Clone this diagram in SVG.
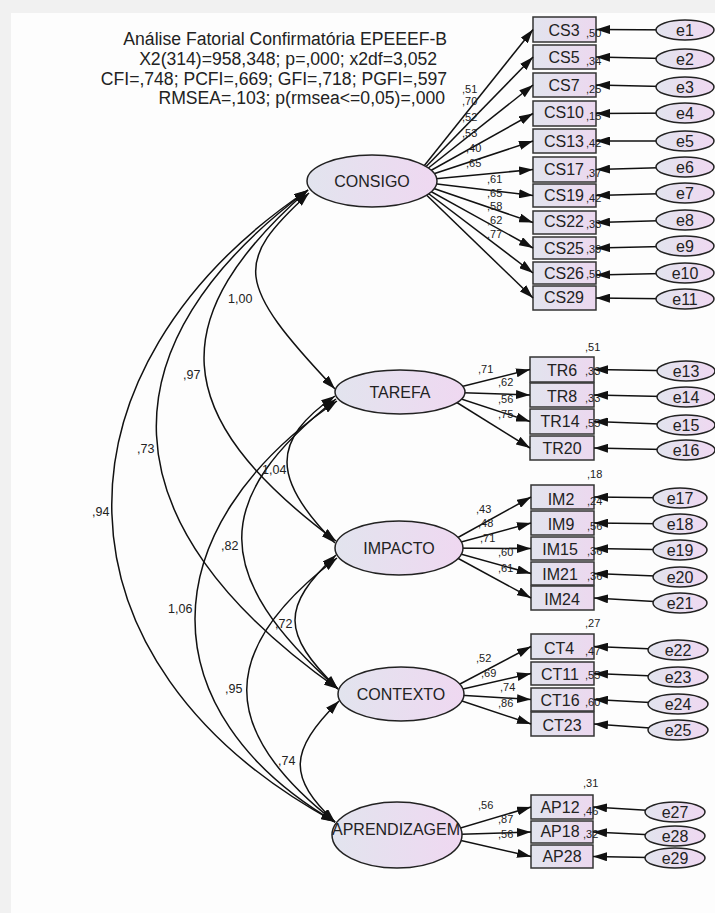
<svg xmlns="http://www.w3.org/2000/svg" width="715" height="913" viewBox="0 0 715 913">
<style>
.t{font-family:"Liberation Sans",Arial,sans-serif;fill:#222}
.hd{font-size:17.6px;text-anchor:end}
.nm{font-size:16px;text-anchor:middle}
.sm{font-size:11px}
.cv{font-size:12.5px}
.box{fill:url(#gb);stroke:#333;stroke-width:1.5}
.lat{fill:url(#gl);stroke:#222;stroke-width:1.5}
.err{fill:url(#gl);stroke:#222;stroke-width:1.5}
.ln{fill:none;stroke:#111;stroke-width:1.5}
.ar{marker-end:url(#ah)}
.cov{fill:none;stroke:#111;stroke-width:1.5;marker-start:url(#ah);marker-end:url(#ah)}
</style>
<defs>
<linearGradient id="gb" x1="0" y1="0" x2="1" y2="0"><stop offset="0" stop-color="#e2e4ee"/><stop offset="1" stop-color="#ecd8ef"/></linearGradient>
<linearGradient id="gl" x1="0" y1="0" x2="1" y2="0"><stop offset="0" stop-color="#e2e4ee"/><stop offset="1" stop-color="#efd8f1"/></linearGradient>
<marker id="ah" viewBox="0 0 14 9" refX="14" refY="4.5" markerWidth="14" markerHeight="9" markerUnits="userSpaceOnUse" orient="auto-start-reverse"><path d="M0,0 L14,4.5 L0,9 z" fill="#111"/></marker>
</defs>
<rect x="0" y="0" width="715" height="913" fill="#f1f1f1"/>
<rect x="11" y="13" width="704" height="900" fill="#fdfdfd"/>
<g id="header" class="t hd">
<text x="447" y="45">Análise Fatorial Confirmatória EPEEEF-B</text>
<text x="437" y="65">X2(314)=958,348; p=,000; x2df=3,052</text>
<text x="447" y="85">CFI=,748; PCFI=,669; GFI=,718; PGFI=,597</text>
<text x="445" y="104">RMSEA=,103; p(rmsea&lt;=0,05)=,000</text>
</g>
<!-- indicators -->
<g id="CS3"><rect class="box" x="533" y="17" width="63" height="25"/><text class="t nm" x="564" y="35.5">CS3</text><text class="t sm" x="586" y="37">,50</text></g>
<g id="CS5"><rect class="box" x="533" y="45" width="63" height="24"/><text class="t nm" x="564" y="62.7">CS5</text><text class="t sm" x="586" y="65">,34</text></g>
<g id="CS7"><rect class="box" x="533" y="73" width="63" height="24"/><text class="t nm" x="564" y="90.7">CS7</text><text class="t sm" x="586" y="93">,25</text></g>
<g id="CS10"><rect class="box" x="533" y="101" width="63" height="25"/><text class="t nm" x="564" y="118.3">CS10</text><text class="t sm" x="586" y="120">,15</text></g>
<g id="CS13"><rect class="box" x="533" y="129" width="63" height="24"/><text class="t nm" x="564" y="146.7">CS13</text><text class="t sm" x="586" y="147">,42</text></g>
<g id="CS17"><rect class="box" x="533" y="157" width="63" height="25"/><text class="t nm" x="564" y="175">CS17</text><text class="t sm" x="586" y="177">,37</text></g>
<g id="CS19"><rect class="box" x="533" y="184" width="63" height="23"/><text class="t nm" x="564" y="200.7">CS19</text><text class="t sm" x="586" y="202">,42</text></g>
<g id="CS22"><rect class="box" x="533" y="211" width="63" height="23"/><text class="t nm" x="564" y="227.3">CS22</text><text class="t sm" x="586" y="228">,33</text></g>
<g id="CS25"><rect class="box" x="533" y="237" width="63" height="22"/><text class="t nm" x="564" y="254">CS25</text><text class="t sm" x="586" y="253">,39</text></g>
<g id="CS26"><rect class="box" x="533" y="262" width="63" height="22"/><text class="t nm" x="564" y="279">CS26</text><text class="t sm" x="586" y="278">,59</text></g>
<g id="CS29"><rect class="box" x="533" y="286" width="63" height="24"/><text class="t nm" x="564" y="302.7">CS29</text></g>

<g id="TR6"><rect class="box" x="530" y="357" width="64" height="25"/><text class="t nm" x="562" y="376">TR6</text><text class="t sm" x="585" y="350.5">,51</text><text class="t sm" x="585" y="375">,33</text></g>
<g id="TR8"><rect class="box" x="530" y="383" width="64" height="24"/><text class="t nm" x="562" y="401.5">TR8</text><text class="t sm" x="585" y="401.5">,33</text></g>
<g id="TR14"><rect class="box" x="530" y="409" width="64" height="25"/><text class="t nm" x="560" y="427">TR14</text><text class="t sm" x="585" y="427">,55</text></g>
<g id="TR20"><rect class="box" x="530" y="436" width="64" height="24"/><text class="t nm" x="562" y="454">TR20</text></g>

<g id="IM2"><rect class="box" x="531" y="485" width="63" height="24"/><text class="t nm" x="561" y="505">IM2</text><text class="t sm" x="587" y="478">,18</text><text class="t sm" x="587" y="505">,24</text></g>
<g id="IM9"><rect class="box" x="531" y="511" width="63" height="24"/><text class="t nm" x="561" y="530">IM9</text><text class="t sm" x="587" y="530">,56</text></g>
<g id="IM15"><rect class="box" x="531" y="537" width="63" height="23"/><text class="t nm" x="560" y="555">IM15</text><text class="t sm" x="587" y="555">,36</text></g>
<g id="IM21"><rect class="box" x="531" y="562" width="63" height="23"/><text class="t nm" x="560" y="580">IM21</text><text class="t sm" x="587" y="580">,36</text></g>
<g id="IM24"><rect class="box" x="531" y="586" width="63" height="24"/><text class="t nm" x="562" y="605">IM24</text></g>

<g id="CT4"><rect class="box" x="531" y="634" width="63" height="25"/><text class="t nm" x="559" y="654">CT4</text><text class="t sm" x="585" y="626.5">,27</text><text class="t sm" x="585" y="655">,47</text></g>
<g id="CT11"><rect class="box" x="531" y="662" width="63" height="23"/><text class="t nm" x="560" y="680">CT11</text><text class="t sm" x="585" y="679">,55</text></g>
<g id="CT16"><rect class="box" x="531" y="688" width="63" height="23"/><text class="t nm" x="560" y="705.5">CT16</text><text class="t sm" x="585" y="706">,60</text></g>
<g id="CT23"><rect class="box" x="531" y="712" width="63" height="24"/><text class="t nm" x="562" y="731">CT23</text></g>

<g id="AP12"><rect class="box" x="531" y="795" width="62" height="24"/><text class="t nm" x="560" y="813">AP12</text><text class="t sm" x="583" y="786.5">,31</text><text class="t sm" x="583" y="815">,46</text></g>
<g id="AP18"><rect class="box" x="531" y="821" width="62" height="22"/><text class="t nm" x="560" y="837">AP18</text><text class="t sm" x="583" y="838">,32</text></g>
<g id="AP28"><rect class="box" x="531" y="845" width="62" height="23"/><text class="t nm" x="562" y="862">AP28</text></g>

<g id="connectors">
<g class="ln ar">
<line x1="412" y1="181" x2="533" y2="29.5"/>
<line x1="412" y1="181" x2="533" y2="57"/>
<line x1="412" y1="181" x2="533" y2="85"/>
<line x1="412" y1="181" x2="533" y2="113.5"/>
<line x1="412" y1="181" x2="533" y2="141"/>
<line x1="412" y1="181" x2="533" y2="169.5"/>
<line x1="412" y1="181" x2="533" y2="195.5"/>
<line x1="412" y1="181" x2="533" y2="222.5"/>
<line x1="412" y1="181" x2="533" y2="248"/>
<line x1="412" y1="181" x2="533" y2="273"/>
<line x1="412" y1="181" x2="533" y2="298"/>
<line x1="440" y1="392" x2="530" y2="369.5"/>
<line x1="440" y1="392" x2="530" y2="395"/>
<line x1="440" y1="392" x2="530" y2="421.5"/>
<line x1="440" y1="392" x2="530" y2="448"/>
<line x1="439" y1="548" x2="531" y2="497"/>
<line x1="439" y1="548" x2="531" y2="523"/>
<line x1="439" y1="548" x2="531" y2="548.5"/>
<line x1="439" y1="548" x2="531" y2="573.5"/>
<line x1="439" y1="548" x2="531" y2="598"/>
<line x1="441" y1="694" x2="531" y2="646.5"/>
<line x1="441" y1="694" x2="531" y2="673.5"/>
<line x1="441" y1="694" x2="531" y2="699.5"/>
<line x1="441" y1="694" x2="531" y2="724"/>
<line x1="437" y1="835" x2="531" y2="807"/>
<line x1="437" y1="835" x2="531" y2="832"/>
<line x1="437" y1="835" x2="531" y2="856.5"/>
<line x1="685" y1="30" x2="596" y2="29.5"/>
<line x1="685" y1="59" x2="596" y2="57"/>
<line x1="685" y1="87" x2="596" y2="85"/>
<line x1="685" y1="113" x2="596" y2="113.5"/>
<line x1="685" y1="141" x2="596" y2="141"/>
<line x1="685" y1="167" x2="596" y2="169.5"/>
<line x1="685" y1="193" x2="596" y2="195.5"/>
<line x1="685" y1="220" x2="596" y2="222.5"/>
<line x1="685" y1="246" x2="596" y2="248"/>
<line x1="685" y1="273" x2="596" y2="275"/>
<line x1="685" y1="299" x2="596" y2="298"/>
<line x1="686" y1="371" x2="594" y2="369.5"/>
<line x1="686" y1="397" x2="594" y2="395"/>
<line x1="686" y1="425" x2="594" y2="421.5"/>
<line x1="686" y1="450" x2="594" y2="448"/>
<line x1="680" y1="498" x2="594" y2="497"/>
<line x1="680" y1="524" x2="594" y2="523"/>
<line x1="680" y1="550" x2="594" y2="548.5"/>
<line x1="680" y1="577" x2="594" y2="573.5"/>
<line x1="680" y1="603" x2="594" y2="598"/>
<line x1="678" y1="650" x2="594" y2="646.5"/>
<line x1="678" y1="677" x2="594" y2="673.5"/>
<line x1="678" y1="704" x2="594" y2="699.5"/>
<line x1="678" y1="730" x2="594" y2="724"/>
<line x1="675" y1="812" x2="593" y2="807"/>
<line x1="675" y1="836" x2="593" y2="832"/>
<line x1="675" y1="858" x2="593" y2="856.5"/>
</g>
<path class="cov" d="M309,193 C234,262 234,282 335,389"/>
<path class="cov" d="M308,190 C165,316 165,414 336,541"/>
<path class="cov" d="M308,190 C101,345 101,522 338,689"/>
<path class="cov" d="M308,190 C42,369 42,663 335,822"/>
<path class="cov" d="M335,396 C271,440 271,479 335,543"/>
<path class="cov" d="M336,399 C210,499 210,575 338,689"/>
<path class="cov" d="M337,401 C148,530 148,712 335,822"/>
<path class="cov" d="M336,555 C281,607 281,633 338,689"/>
<path class="cov" d="M337,558 C217,649 217,730 335,822"/>
<path class="cov" d="M339,701 C288,752 288,777 335,822"/>
<g class="t sm">
<text x="462" y="93">,51</text><text x="462" y="105">,70</text><text x="462" y="120.5">,52</text><text x="462" y="136.5">,53</text><text x="466" y="151.5">,40</text><text x="466" y="166.5">,65</text>
<text x="487" y="183">,61</text><text x="487" y="197">,65</text><text x="487" y="210">,58</text><text x="487" y="224">,62</text><text x="487" y="238">,77</text>
<text x="478" y="373">,71</text><text x="498" y="386">,62</text><text x="498" y="403">,56</text><text x="498" y="417.5">,75</text>
<text x="476" y="513">,43</text><text x="478" y="527">,48</text><text x="480" y="542">,71</text><text x="498" y="556">,60</text><text x="498" y="572">,61</text>
<text x="476" y="662">,52</text><text x="481" y="677">,69</text><text x="500" y="691">,74</text><text x="498" y="707">,86</text>
<text x="478" y="809">,56</text><text x="498" y="823">,87</text><text x="498" y="838">,56</text>
</g>
<g class="t cv">
<text x="228" y="303">1,00</text><text x="183" y="379">,97</text><text x="137" y="453">,73</text><text x="92" y="516">,94</text>
<text x="262" y="474">1,04</text><text x="221" y="550">,82</text><text x="168" y="613">1,06</text>
<text x="275" y="628">,72</text><text x="225" y="693">,95</text><text x="278" y="765">,74</text>
</g>
</g>
<g id="CONSIGO"><ellipse class="lat" cx="372" cy="181" rx="65" ry="26"/><text class="t nm" x="372" y="186.5">CONSIGO</text></g>
<g id="TAREFA"><ellipse class="lat" cx="400" cy="392" rx="65" ry="22"/><text class="t nm" x="400" y="397.5">TAREFA</text></g>
<g id="IMPACTO"><ellipse class="lat" cx="399" cy="548" rx="64" ry="27"/><text class="t nm" x="399" y="553.5">IMPACTO</text></g>
<g id="CONTEXTO"><ellipse class="lat" cx="401" cy="694" rx="63" ry="27"/><text class="t nm" x="401" y="700">CONTEXTO</text></g>
<g id="APRENDIZAGEM"><ellipse class="lat" cx="397" cy="835" rx="65" ry="33"/><text class="t nm" x="396" y="835">APRENDIZAGEM</text></g>
<g id="e1"><ellipse class="err" cx="685" cy="30" rx="29" ry="10"/><text class="t nm" x="685" y="35.5">e1</text></g>
<g id="e2"><ellipse class="err" cx="685" cy="59" rx="29" ry="10"/><text class="t nm" x="685" y="64.5">e2</text></g>
<g id="e3"><ellipse class="err" cx="685" cy="87" rx="29" ry="10"/><text class="t nm" x="685" y="92.5">e3</text></g>
<g id="e4"><ellipse class="err" cx="685" cy="113" rx="29" ry="10"/><text class="t nm" x="685" y="118.5">e4</text></g>
<g id="e5"><ellipse class="err" cx="685" cy="141" rx="29" ry="10"/><text class="t nm" x="685" y="146.5">e5</text></g>
<g id="e6"><ellipse class="err" cx="685" cy="167" rx="29" ry="10"/><text class="t nm" x="685" y="172.5">e6</text></g>
<g id="e7"><ellipse class="err" cx="685" cy="193" rx="29" ry="10"/><text class="t nm" x="685" y="198.5">e7</text></g>
<g id="e8"><ellipse class="err" cx="685" cy="220" rx="29" ry="10"/><text class="t nm" x="685" y="225.5">e8</text></g>
<g id="e9"><ellipse class="err" cx="685" cy="246" rx="29" ry="10"/><text class="t nm" x="685" y="251.5">e9</text></g>
<g id="e10"><ellipse class="err" cx="685" cy="273" rx="29" ry="10"/><text class="t nm" x="685" y="278.5">e10</text></g>
<g id="e11"><ellipse class="err" cx="685" cy="299" rx="29" ry="10"/><text class="t nm" x="685" y="304.5">e11</text></g>
<g id="e13"><ellipse class="err" cx="686" cy="371" rx="29" ry="10"/><text class="t nm" x="686" y="376.5">e13</text></g>
<g id="e14"><ellipse class="err" cx="686" cy="397" rx="29" ry="10"/><text class="t nm" x="686" y="402.5">e14</text></g>
<g id="e15"><ellipse class="err" cx="686" cy="425" rx="29" ry="10"/><text class="t nm" x="686" y="430.5">e15</text></g>
<g id="e16"><ellipse class="err" cx="686" cy="450" rx="29" ry="10"/><text class="t nm" x="686" y="455.5">e16</text></g>
<g id="e17"><ellipse class="err" cx="680" cy="498" rx="27" ry="10"/><text class="t nm" x="680" y="503.5">e17</text></g>
<g id="e18"><ellipse class="err" cx="680" cy="524" rx="27" ry="10"/><text class="t nm" x="680" y="529.5">e18</text></g>
<g id="e19"><ellipse class="err" cx="680" cy="550" rx="27" ry="10"/><text class="t nm" x="680" y="555.5">e19</text></g>
<g id="e20"><ellipse class="err" cx="680" cy="577" rx="27" ry="10"/><text class="t nm" x="680" y="582.5">e20</text></g>
<g id="e21"><ellipse class="err" cx="680" cy="603" rx="27" ry="10"/><text class="t nm" x="680" y="608.5">e21</text></g>
<g id="e22"><ellipse class="err" cx="678" cy="650" rx="30" ry="10"/><text class="t nm" x="678" y="655.5">e22</text></g>
<g id="e23"><ellipse class="err" cx="678" cy="677" rx="30" ry="10"/><text class="t nm" x="678" y="682.5">e23</text></g>
<g id="e24"><ellipse class="err" cx="678" cy="704" rx="30" ry="10"/><text class="t nm" x="678" y="709.5">e24</text></g>
<g id="e25"><ellipse class="err" cx="678" cy="730" rx="30" ry="10"/><text class="t nm" x="678" y="735.5">e25</text></g>
<g id="e27"><ellipse class="err" cx="675" cy="812" rx="30" ry="10"/><text class="t nm" x="675" y="817.5">e27</text></g>
<g id="e28"><ellipse class="err" cx="675" cy="836" rx="30" ry="10"/><text class="t nm" x="675" y="841.5">e28</text></g>
<g id="e29"><ellipse class="err" cx="675" cy="858" rx="30" ry="10"/><text class="t nm" x="675" y="863.5">e29</text></g>
</svg>
